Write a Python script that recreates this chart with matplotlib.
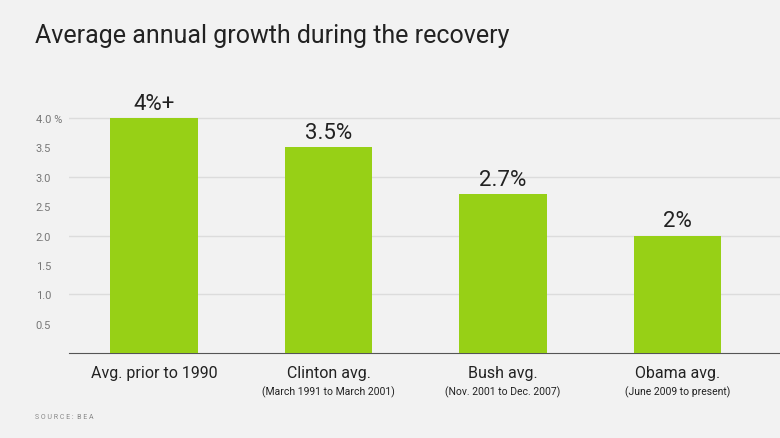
import matplotlib
matplotlib.use("Agg")
import matplotlib.pyplot as plt

categories = ["Avg. prior to 1990", "Clinton avg.", "Bush avg.", "Obama avg."]
subtitles = ["", "(March 1991 to March 2001)", "(Nov. 2001 to Dec. 2007)", "(June 2009 to present)"]
values = [4.0, 3.5, 2.7, 2.0]
labels = ["4%+", "3.5%", "2.7%", "2%"]
yticks = [0.5, 1.0, 1.5, 2.0, 2.5, 3.0, 3.5, 4.0]
ytick_labels = ["0.5", "1.0", "1.5", "2.0", "2.5", "3.0", "3.5", "4.0 %"]

W, H = 780, 439
fig = plt.figure(figsize=(W/100, H/100), dpi=100)
fig.patch.set_facecolor("#f2f2f2")
ax = fig.add_axes([69/W, 1-354/H, (780-69)/W, (354-95)/H])
ax.set_facecolor("none")
x = list(range(len(categories)))
ax.bar(x, values, width=0.5, color="#97d016", zorder=3)
for xi, v, l in zip(x, values, labels):
    ax.text(xi, v + 0.07, l, ha="center", va="bottom", fontsize=16, color="#222222", family="Roboto")
ax.set_xlim(-0.487, 3.587)
ax.set_ylim(0, 4.41)
for g in [1, 2, 3, 4]:
    ax.axhline(g, color="#dcdcdc", lw=1, zorder=1)
for s in ["top", "right", "left"]:
    ax.spines[s].set_visible(False)
ax.spines["bottom"].set_color("#555555")
ax.set_yticks(yticks)
ax.set_yticklabels(ytick_labels, fontsize=8, color="#777777", family="Roboto")
ax.tick_params(axis="y", length=0, pad=24)
for lab in ax.get_yticklabels():
    lab.set_horizontalalignment("left")
ax.set_xticks([])
for xi, c, s in zip(x, categories, subtitles):
    ax.text(xi, -0.2, c, ha="center", va="top", fontsize=11.5, color="#222222", family="Roboto",
            clip_on=False)
    if s:
        ax.text(xi, -0.55, s, ha="center", va="top", fontsize=7.5, color="#222222", family="Roboto",
                clip_on=False)
fig.text(35/W, 1-36/H, "Average annual growth during the recovery", fontsize=18, color="#222222",
         family="Roboto", va="center")
fig.text(35/W, 1-418/H, "S O U R C E :  B E A", fontsize=5, color="#888888", family="Roboto", va="center")
fig.savefig("out.png", dpi=100, facecolor=fig.get_facecolor())
